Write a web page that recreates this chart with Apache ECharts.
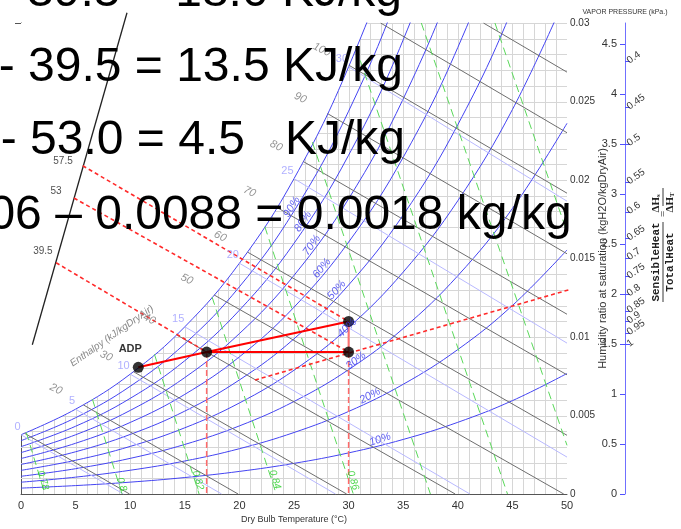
<!DOCTYPE html>
<html><head><meta charset="utf-8">
<script src="https://cdn.jsdelivr.net/npm/echarts@6/dist/echarts.min.js"></script>
<style>html,body{margin:0;padding:0;background:#fff}#c{width:681px;height:529px}</style>
</head><body><div id="c"></div>
<script>
// ---- relative humidity curves (humidity ratio kg/kg at dry bulb temps) ----
const temps = [0,5,10,15,20,25,30,35,40,45,50];
const rh10 = [0.000375,0.000536,0.000755,0.001049,0.001439,0.001952,0.002618,0.003475,0.004566,0.005946,0.007676];
const rh20 = [0.000751,0.001073,0.001512,0.002101,0.002885,0.003916,0.005258,0.006988,0.009200,0.012007,0.015544];
const rh30 = [0.001128,0.001611,0.002270,0.003157,0.004338,0.005892,0.007920,0.010541,0.013903,0.018185,0.023611];
const rh40 = [0.001505,0.002150,0.003031,0.004217,0.005798,0.007882,0.010605,0.014135,0.018677,0.024486,0.031884];
const rh50 = [0.001882,0.002690,0.003793,0.005280,0.007264,0.009884,0.013314,0.017770,0.023522,0.030912,0.040373];
const rh60 = [0.002259,0.003231,0.004557,0.006346,0.008737,0.011898,0.016045,0.021446,0.028441,0.037466,0.049085];
const rh70 = [0.002637,0.003772,0.005323,0.007417,0.010217,0.013925,0.018800,0.025165,0.033437,0.044155,0.058029];
const rh80 = [0.003016,0.004315,0.006091,0.008491,0.011704,0.015966,0.021579,0.028927,0.038509,0.050980,0.067200];
const rh90 = [0.003395,0.004858,0.006861,0.009568,0.013198,0.018019,0.024382,0.032733,0.043662,0.057950,0.076700];
const rh100 = [0.003775,0.005403,0.007632,0.010650,0.014699,0.020086,0.027210,0.036584,0.048894,0.065060,0.086350];
const rhCurves = [rh10,rh20,rh30,rh40,rh50,rh60,rh70,rh80,rh90];
const rhLabels = ['10%','20%','30%','40%','50%','60%','70%','80%','90%'];
const rhLabelT = [32.88,31.96,30.68,29.85,28.91,27.54,26.62,25.82,24.79];
const rhLabelW = [0.00347,0.00625,0.00849,0.01056,0.01299,0.01437,0.01584,0.01735,0.01828];
const rhLabelRot = [18,28,37,44,48,51,54,56,58];

// ---- wet bulb lines ----
const wbLabels = ['0','5','10','15','20','25','30'];
const wbStartT = [0,5,10,15,20,25,30];
const wbStartW = [0.003775,0.005403,0.007632,0.010650,0.014699,0.020086,0.027210];
const wbEndT = [9.385,18.37,28.80,41.11,50,50,50];
const wbEndW = [0,0,0,0,0.00235,0.00961,0.01865];

// ---- enthalpy lines (kJ/kg dry air) ----
const enthStartT = [0.32,5.7,10.3,14.25,17.68,20.74,23.44,25.87,28.07,30.05,32.93,42.35];
const enthStartW = [0.003868,0.00568,0.00779,0.01014,0.01268,0.01541,0.01825,0.02117,0.02423,0.0273,0.03,0.03];
const enthEndT = [9.94,19.88,29.82,39.76,49.70,50,50,50,50,50,50,50];
const enthEndW = [0,0,0,0,0,0.00374,0.00759,0.01145,0.0153,0.01916,0.02301,0.02687];
const enthLabels = ['20','30','40','50','60','70','80','90','100'];
const enthLabelT = [3.2,7.8,11.75,15.18,18.24,20.94,23.37,25.57,27.55];
const enthLabelW = [0.00668,0.00879,0.01114,0.01368,0.01641,0.01925,0.02217,0.02523,0.0283];

// ---- specific volume lines (m3/kg) ----
const volStartT = [0.48,6.54,12.22,17.5,22.33,26.68,30.68,36.66,43.4];
const volStartW = [0.00392,0.00604,0.0089,0.01254,0.01702,0.02241,0.0284,0.03,0.03];
const volEndT = [2.19,9.25,16.31,23.37,30.43,37.49,44.55,50,50];
const volEndW = [0,0,0,0,0,0,0,0.0031,0.01669];
const volLabels = ['0.78','0.8','0.82','0.84','0.86'];
const volLabelT = [2.01,9.22,16.21,23.26,30.40];
const volLabelW = [0.00087,0.00061,0.00087,0.00093,0.00087];

// ---- process points: ADP, A, B, C ----
const ptLabels = ['ADP','','',''];
const ptT = [10.74,17,30,30];
const ptW = [0.00807,0.00904,0.00904,0.01099];

// ---- enthalpy reading scale ----
const scaleT = [9.707,1.035];
const scaleW = [0.03065,0.009506];
const scaleLabels = ['57.5','53','39.5'];
const scaleLabelT = [3.85,3.21,2.01];
const scaleLabelW = [0.02121,0.01931,0.01544];
const scaleHitT = [5.65,4.85,3.21];
const scaleHitW = [0.02091,0.01885,0.01473];
const scaleFromPt = [3,2,1]; // C, B, A

// ---- sensible heat ratio line ----
const shrLineT = [21.43,55.4];
const shrLineW = [0.00726,0.01405];

// ---- axes ticks ----
const vpTicks = [0,0.5,1,1.5,2,2.5,3,3.5,4,4.5];
const shrTickLabels = ['0.4','0.45','0.5','0.55','0.6','0.65','0.7','0.75','0.8','0.85','0.9','0.95','1'];
const shrTickPos = [4.325,3.865,3.5,3.118,2.82,2.554,2.36,2.173,1.997,1.831,1.725,1.609,1.493];

// ---- overlay text ----
const bigText = ['57.5 - 39.5 = 18.0 KJ/kg','53 - 39.5 = 13.5 KJ/kg','57.5 - 53.0 = 4.5   KJ/kg','0.0106 \u2013 0.0088 = 0.0018 kg/kg'];

const NARROW = '"Liberation Sans Narrow","Arial Narrow","Liberation Sans",Arial,sans-serif';
const GRID = '#d6d6d6';
const chart = echarts.init(document.getElementById('c'), null, {renderer:'canvas'});
const series = [];
const pair = (t,w)=>t.map((v,i)=>[v,w[i]]);
function seg(a,b,style,z,clip){
  series.push({type:'line',data:[a,b],symbol:'none',silent:true,z:z||3,clip:clip!==false,lineStyle:style,animation:false});
}
// fine grid (1 degC x 0.001 kg/kg), drawn through the axes
series.push({type:'custom',z:1,silent:true,animation:false,clip:true,data:[[0,0]],
  renderItem:(params,api)=>{
    const ch=[];
    for(let t=1;t<50;t++){const a=api.coord([t,0]),b=api.coord([t,0.03]);const x=Math.round(a[0])+0.5;
      ch.push({type:'line',shape:{x1:x,y1:a[1],x2:x,y2:b[1]},style:{stroke:GRID,lineWidth:1}});}
    for(let k=1;k<=30;k++){const a=api.coord([0,k/1000]),b=api.coord([50,k/1000]);const y=Math.round(a[1])+0.5;
      ch.push({type:'line',shape:{x1:a[0],y1:y,x2:b[0],y2:y},style:{stroke:GRID,lineWidth:1}});}
    return {type:'group',children:ch};
  }});
// white mask above saturation curve + saturation line
series.push({type:'line',data:pair(temps,rh100),smooth:0.4,symbol:'none',silent:true,z:2,
  lineStyle:{color:'#4444f2',width:1},areaStyle:{origin:'end',color:'#ffffff',opacity:1},animation:false});
rhCurves.forEach(c=>series.push({type:'line',data:pair(temps,c),smooth:0.4,symbol:'none',silent:true,z:3,
  lineStyle:{color:'#4444f2',width:1},animation:false}));
wbStartT.forEach((t,i)=>seg([t,wbStartW[i]],[wbEndT[i],wbEndW[i]],{color:'#b8b8ff',width:1},3));
enthStartT.forEach((t,i)=>seg([t,enthStartW[i]],[enthEndT[i],enthEndW[i]],{color:'#6e6e6e',width:1},3));
volStartT.forEach((t,i)=>seg([t,volStartW[i]],[volEndT[i],volEndW[i]],{color:'#5ad85a',width:1,type:[8,5]},3));
// enthalpy scale line
seg([scaleT[0],scaleW[0]],[scaleT[1],scaleW[1]],{color:'#222',width:1.3},5,false);
// red dashed enthalpy projections
scaleHitT.forEach((t,i)=>{const p=scaleFromPt[i];seg([t,scaleHitW[i]],[ptT[p],ptW[p]],{color:'#ff2a2a',width:1.6,type:[4,3]},6,false);});
// SHR line
seg([shrLineT[0],shrLineW[0]],[shrLineT[1],shrLineW[1]],{color:'#ff2a2a',width:1.6,type:[4,3]},6,false);
// verticals to axis
seg([ptT[1],ptW[1]],[ptT[1],0],{color:'#ff6a6a',width:1.5,type:[6,3]},6);
seg([ptT[2],ptW[2]],[ptT[2],0],{color:'#ff6a6a',width:1.5,type:[6,3]},6);
// process lines
seg([ptT[2],ptW[2]],[ptT[3],ptW[3]],{color:'#ff7070',width:2},7);
seg([ptT[0],ptW[0]],[ptT[1],ptW[1]],{color:'#ff0000',width:2},7);
seg([ptT[1],ptW[1]],[ptT[2],ptW[2]],{color:'#ff0000',width:2},7);
seg([ptT[1],ptW[1]],[ptT[3],ptW[3]],{color:'#ff0000',width:2},7);
// points
series.push({type:'scatter',z:8,silent:true,symbolSize:11,itemStyle:{color:'#000'},animation:false,
  data:ptT.map((t,i)=>({value:[t,ptW[i]],label:{show:!!ptLabels[i],formatter:ptLabels[i],position:'top',offset:[-8,-2],
    color:'#000',fontWeight:'bold',fontSize:11,fontFamily:'"Liberation Sans",Arial,sans-serif'}}))});
// label helpers
function labels(T,W,txt,lab,rot){
  series.push({type:'scatter',z:9,silent:true,symbolSize:1,itemStyle:{color:'rgba(0,0,0,0)'},animation:false,
    data:T.map((t,i)=>({value:[t,W[i]],label:Object.assign({show:true,formatter:txt[i],rotate:rot?rot[i]:(lab.rotate||0)},lab)}))});
}
labels(rhLabelT,rhLabelW,rhLabels,{position:'inside',color:'#3838ee',fontStyle:'italic',fontSize:11,fontFamily:NARROW},rhLabelRot);
labels(wbStartT,wbStartW,wbLabels,{position:'left',distance:0,offset:[0,-8],color:'#9c9cff',fontSize:11,fontFamily:NARROW});
labels(enthLabelT,enthLabelW,enthLabels,{position:'inside',color:'#777',fontStyle:'italic',fontSize:11,fontFamily:NARROW,rotate:-25});
labels(volLabelT,volLabelW,volLabels,{position:'inside',color:'#22cc22',fontStyle:'italic',fontSize:10,fontFamily:NARROW,rotate:-73});
labels(scaleLabelT,scaleLabelW,scaleLabels,{position:'inside',color:'#222',fontSize:10,fontFamily:NARROW});

const option = {
  animation:false,
  grid:{left:21,right:114,top:23,bottom:32,containLabel:false},
  xAxis:{type:'value',min:0,max:50,interval:5,z:0,
    axisLine:{lineStyle:{color:'#555'}},axisTick:{show:false},
    axisLabel:{color:'#333',fontSize:11,margin:6,fontFamily:NARROW},
    splitLine:{show:false},
    name:'Dry Bulb Temperature (\u00b0C)',nameLocation:'middle',nameGap:21,nameMoveOverlap:false,
    nameTextStyle:{color:'#333',fontSize:9,fontFamily:NARROW}},
  yAxis:[
    {type:'value',position:'right',min:0,max:0.03,interval:0.005,z:0,
     axisLine:{show:true,lineStyle:{color:'#555'}},
     axisTick:{show:true,inside:true,length:6,customValues:[0.03],lineStyle:{color:'#555'}},
     axisLabel:{color:'#333',fontSize:10,margin:3,fontFamily:NARROW},
     splitLine:{show:false},
     name:'Humidity ratio at saturation (kgH2O/kgDryAir)',nameLocation:'middle',nameRotate:90,nameGap:30,nameMoveOverlap:false,
     nameTextStyle:{color:'#333',fontSize:11,fontFamily:'"Liberation Sans",Arial,sans-serif'}},
    {type:'value',position:'right',offset:58,min:0,max:4.71,
     axisLine:{show:true,lineStyle:{color:'#7070ff'}},
     axisTick:{show:true,inside:true,length:5,customValues:vpTicks,lineStyle:{color:'#5050ff'}},
     axisLabel:{show:true,inside:true,margin:8,customValues:vpTicks,color:'#333',fontSize:11,fontFamily:NARROW},
     splitLine:{show:false},
     name:'VAPOR PRESSURE (kPa.)',nameLocation:'end',nameGap:7,nameMoveOverlap:false,
     nameTextStyle:{color:'#333',fontSize:7,fontFamily:NARROW}},
    {type:'value',position:'right',offset:58,min:0,max:4.71,
     axisLine:{show:false},
     axisTick:{show:true,inside:false,length:5,customValues:shrTickPos,lineStyle:{color:'#5050ff'}},
     axisLabel:{show:true,margin:3,rotate:35,customValues:shrTickPos,color:'#333',fontSize:10,fontFamily:NARROW,
       formatter:v=>{let bi=0,bd=1e9;shrTickPos.forEach((p,i)=>{const d=Math.abs(p-v);if(d<bd){bd=d;bi=i;}});return shrTickLabels[bi];}},
     splitLine:{show:false}}
  ],
  series:series,
  graphic:[
    {type:'text',x:112,y:336,rotation:35*Math.PI/180,z:50,silent:true,
     style:{text:'Enthalpy (kJ/kgDryAir)',fill:'#888',font:'italic 10px '+NARROW,align:'center',verticalAlign:'middle'}},
    {type:'group',x:663,y:262,rotation:Math.PI/2,z:50,silent:true,children:[
      {type:'text',x:0,y:-7,style:{text:'SensibleHeat',fill:'#222',font:'bold 11px "Liberation Mono",monospace',align:'center',verticalAlign:'middle'}},
      {type:'line',shape:{x1:-40,y1:0,x2:40,y2:0},style:{stroke:'#222',lineWidth:0.9}},
      {type:'text',x:0,y:7,style:{text:'TotalHeat',fill:'#222',font:'bold 11px "Liberation Mono",monospace',align:'center',verticalAlign:'middle'}},
      {type:'text',x:48,y:0,style:{text:'=',fill:'#222',font:'11px "Liberation Serif",serif',align:'center',verticalAlign:'middle'}},
      {type:'text',x:65,y:-7,style:{text:'\u0394H',fill:'#222',font:'bold 11px "Liberation Serif",serif',align:'right',verticalAlign:'middle'}},
      {type:'text',x:65,y:-5,style:{text:'s',fill:'#222',font:'bold 7px "Liberation Serif",serif',align:'left',verticalAlign:'middle'}},
      {type:'line',shape:{x1:56,y1:0,x2:74,y2:0},style:{stroke:'#222',lineWidth:0.9}},
      {type:'text',x:65,y:7,style:{text:'\u0394H',fill:'#222',font:'bold 11px "Liberation Serif",serif',align:'right',verticalAlign:'middle'}},
      {type:'text',x:65,y:9,style:{text:'T',fill:'#222',font:'bold 7px "Liberation Serif",serif',align:'left',verticalAlign:'middle'}}
    ]},
    ...bigText.map((t,i)=>({type:'text',z:100,silent:true,x:[-109,-68,-106,-105][i],y:[-7,68,141,216][i],
      style:{text:t,fill:'#000',font:'48px "Liberation Sans",Arial,sans-serif',align:'left',verticalAlign:'middle'}}))
  ]
};
chart.setOption(option);
</script>
</body></html>
